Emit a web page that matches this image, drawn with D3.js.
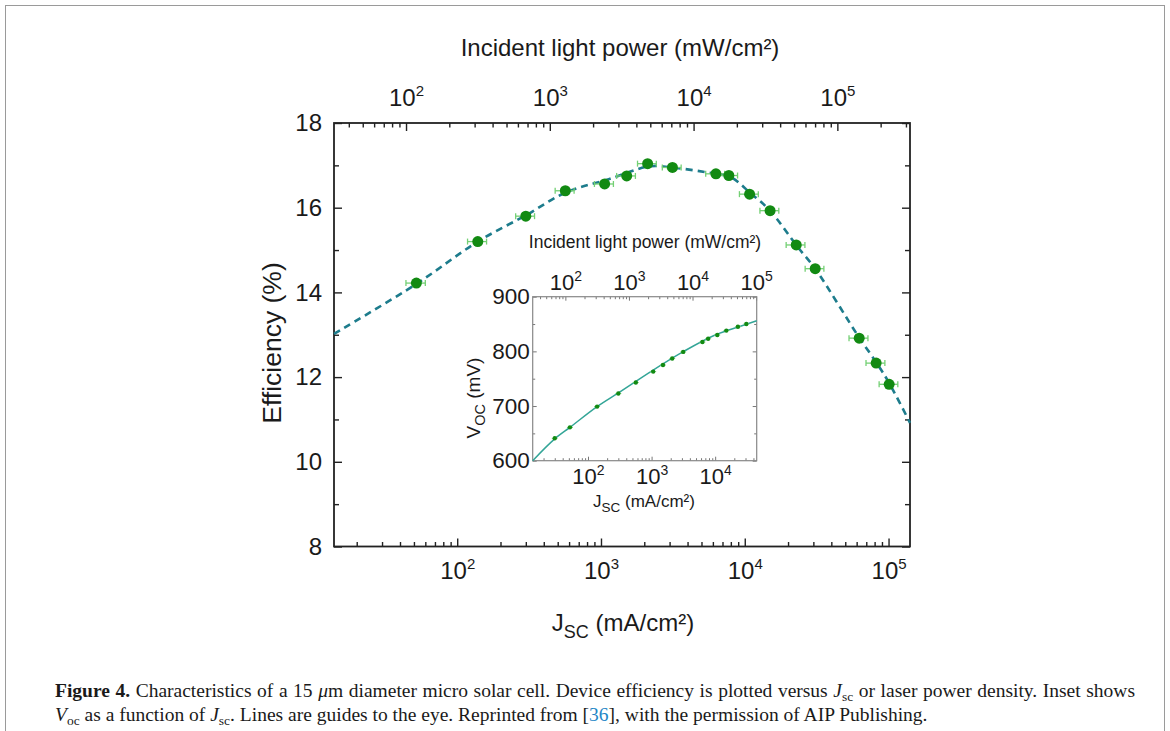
<!DOCTYPE html>
<html>
<head>
<meta charset="utf-8">
<script src="https://cdn.jsdelivr.net/npm/d3@7"></script>
<style>
  body { margin: 0; background: #fff; }
  svg { display: block; }
  text { font-family: "Liberation Sans", Arial, sans-serif; fill: #1a1a1a; }
</style>
</head>
<body>
<svg id="chart" width="1170" height="731"></svg>
<script>
// main plot: efficiency vs Jsc (mA/cm2)
const jsc = [52, 139, 300, 565, 1060, 1510, 2110, 3140, 6300, 7750, 10800, 15000, 22800, 30900, 62500, 82000, 101000];
const efficiency = [14.22, 15.2, 15.8, 16.4, 16.56, 16.75, 17.04, 16.95, 16.8, 16.76, 16.32, 15.93, 15.12, 14.56, 12.92, 12.33, 11.83];
const jscErr = [8, 21, 45, 85, 160, 225, 315, 470, 950, 1160, 1620, 2250, 3400, 4600, 9400, 12300, 15000];

// dashed guide to the eye
const guideJsc = [13.9, 52, 139, 300, 570, 1100, 2200, 3100, 6300, 8000, 11000, 15000, 23000, 31000, 62000, 82000, 101000, 141000];
const guideEff = [13.02, 14.2, 15.2, 15.82, 16.36, 16.66, 16.98, 16.95, 16.8, 16.72, 16.34, 15.93, 15.1, 14.55, 12.95, 12.35, 11.86, 10.92];

// inset: Voc (mV) vs Jsc
const insetJsc = [30, 52, 139, 300, 565, 1060, 1510, 2110, 3140, 6300, 7750, 10800, 15000, 22800, 30900];
const insetVoc = [641, 661, 699, 723, 743, 763, 775, 787, 799, 817, 823, 830, 838, 845, 850];
const insetFitJsc = [13.5, 30, 52, 139, 300, 1000, 3100, 10000, 25000, 45000];
const insetFitVoc = [600, 640, 661, 699, 724, 764, 799, 830, 846, 856];

const effTicks = [8, 10, 12, 14, 16, 18];
const effMinor = [9, 11, 13, 15, 17];
const vocTicks = [600, 700, 800, 900];
const vocMinor = [650, 750, 850];
const powerPerJsc = 2.27; // incident power density per unit of Jsc

const svg = d3.select("#chart");
svg.append("rect").attr("width", 1170).attr("height", 731).attr("fill", "#fff");
svg.append("rect").attr("x", 5.5).attr("y", 5.5).attr("width", 1159).attr("height", 760)
  .attr("fill", "none").attr("stroke", "#9a9a9a").attr("stroke-width", 1);

function isPow10(d) {
  const l = Math.log10(d);
  return Math.abs(l - Math.round(l)) < 1e-6;
}
function supLabels(g, supSize, rise) {
  g.selectAll(".tick text").each(function (d) {
    const t = d3.select(this).text(null);
    t.append("tspan").text("10");
    t.append("tspan").attr("dy", -rise).attr("font-size", supSize).text(Math.round(Math.log10(d)));
  });
}
function clean(g, color, width) {
  g.select(".domain").remove();
  g.selectAll(".tick line").attr("stroke", color).attr("stroke-width", width);
}

// ---------- main plot ----------
const x = d3.scaleLog().domain([13.9, 141000]).range([334, 910]);
const xTop = d3.scaleLog().domain(x.domain().map(d => d * powerPerJsc)).range(x.range());
const y = d3.scaleLinear().domain([8, 18]).range([546.5, 123]);

function logAxes(scale, axisFn, ty, major, minor, pad, fs, sup, rise, color, lw) {
  const minorVals = scale.ticks().filter(d => !isPow10(d));
  const majorVals = scale.ticks().filter(isPow10);
  const g1 = svg.append("g").attr("transform", `translate(0,${ty})`)
    .call(axisFn(scale).tickValues(minorVals).tickSize(-minor).tickSizeOuter(0).tickFormat(""));
  clean(g1, color, lw);
  const g2 = svg.append("g").attr("transform", `translate(0,${ty})`)
    .call(axisFn(scale).tickValues(majorVals).tickSize(-major).tickSizeOuter(0).tickPadding(pad).tickFormat(d => d));
  clean(g2, color, lw);
  g2.selectAll(".tick text").attr("font-size", fs).attr("font-family", "Liberation Sans, Arial, sans-serif").attr("fill", "#1a1a1a");
  supLabels(g2, sup, rise);
  return g2;
}

logAxes(x, d3.axisBottom, y(8), 8, 4.5, 15, 24, 15, 10, "#222", 1.4);
logAxes(xTop, d3.axisTop, y(18), 8, 4.5, 17, 24, 15, 10, "#222", 1.4);

const gl = svg.append("g").attr("transform", `translate(${x.range()[0]},0)`)
  .call(d3.axisLeft(y).tickValues(effTicks).tickSize(-8).tickSizeOuter(0).tickPadding(12));
clean(gl, "#222", 1.4);
gl.selectAll(".tick text").attr("font-size", 24).attr("fill", "#1a1a1a").attr("font-family", "Liberation Sans, Arial, sans-serif");
const glm = svg.append("g").attr("transform", `translate(${x.range()[0]},0)`)
  .call(d3.axisLeft(y).tickValues(effMinor).tickSize(-5).tickFormat(""));
clean(glm, "#222", 1.4);
const gr = svg.append("g").attr("transform", `translate(${x.range()[1]},0)`)
  .call(d3.axisRight(y).tickValues(effTicks).tickSize(-8).tickFormat(""));
clean(gr, "#222", 1.4);
const grm = svg.append("g").attr("transform", `translate(${x.range()[1]},0)`)
  .call(d3.axisRight(y).tickValues(effMinor).tickSize(-5).tickFormat(""));
clean(grm, "#222", 1.4);

svg.append("rect")
  .attr("x", x.range()[0]).attr("y", y(18))
  .attr("width", x.range()[1] - x.range()[0]).attr("height", y(8) - y(18))
  .attr("fill", "none").attr("stroke", "#222").attr("stroke-width", 1.8);

// titles
svg.append("text").attr("x", 620).attr("y", 56).attr("text-anchor", "middle")
  .attr("font-size", 24).text("Incident light power (mW/cm²)");
const bt = svg.append("text").attr("x", 623).attr("y", 631).attr("text-anchor", "middle").attr("font-size", 24);
bt.append("tspan").text("J");
bt.append("tspan").attr("font-size", 18).attr("dy", 7).text("SC");
bt.append("tspan").attr("dy", -7).text(" (mA/cm²)");
svg.append("text").attr("transform", "translate(281,343) rotate(-90)").attr("text-anchor", "middle")
  .attr("font-size", 26.5).text("Efficiency (%)");

// guide line
const guide = guideJsc.map((d, i) => [d, guideEff[i]]);
svg.append("path").datum(guide)
  .attr("d", d3.line().x(d => x(d[0])).y(d => y(d[1])).curve(d3.curveCatmullRom.alpha(0.5)))
  .attr("fill", "none").attr("stroke", "#1d7c8c").attr("stroke-width", 2.6)
  .attr("stroke-dasharray", "7,5");

// error bars + points
const pts = jsc.map((d, i) => ({ j: d, e: efficiency[i], err: jscErr[i] }));
const eb = svg.append("g").attr("stroke", "#74d074").attr("stroke-width", 1.3).attr("fill", "none");
pts.forEach(p => {
  const x0 = x(p.j - p.err), x1 = x(p.j + p.err), yy = y(p.e);
  eb.append("line").attr("x1", x0).attr("x2", x1).attr("y1", yy).attr("y2", yy);
  eb.append("line").attr("x1", x0).attr("x2", x0).attr("y1", yy - 3).attr("y2", yy + 3);
  eb.append("line").attr("x1", x1).attr("x2", x1).attr("y1", yy - 3).attr("y2", yy + 3);
});
svg.append("g").selectAll("circle").data(pts).join("circle")
  .attr("cx", d => x(d.j)).attr("cy", d => y(d.e)).attr("r", 5.5)
  .attr("fill", "#128a12");

// ---------- inset ----------
const xi = d3.scaleLog().domain([13.5, 45000]).range([532.7, 756.7]);
const xiTop = d3.scaleLog().domain(xi.domain().map(d => d * powerPerJsc)).range(xi.range());
const yi = d3.scaleLinear().domain([600, 900]).range([460.7, 296.7]);

logAxes(xi, d3.axisBottom, yi(600), 4, 2.5, 8, 22, 14, 9, "#777", 1);
logAxes(xiTop, d3.axisTop, yi(900), 4, 2.5, 7, 22, 14, 9, "#777", 1);

const gil = svg.append("g").attr("transform", `translate(${xi.range()[0]},0)`)
  .call(d3.axisLeft(yi).tickValues(vocTicks).tickSize(-4).tickSizeOuter(0).tickPadding(3));
clean(gil, "#777", 1);
gil.selectAll(".tick text").attr("font-size", 22.5).attr("fill", "#1a1a1a").attr("font-family", "Liberation Sans, Arial, sans-serif");
[[d3.axisLeft, xi.range()[0], vocMinor, 2.5], [d3.axisRight, xi.range()[1], vocTicks, 4], [d3.axisRight, xi.range()[1], vocMinor, 2.5]]
  .forEach(([fn, tx, vals, len]) => {
    const g = svg.append("g").attr("transform", `translate(${tx},0)`)
      .call(fn(yi).tickValues(vals).tickSize(-len).tickFormat(""));
    clean(g, "#777", 1);
  });
svg.append("rect")
  .attr("x", xi.range()[0]).attr("y", yi(900))
  .attr("width", xi.range()[1] - xi.range()[0]).attr("height", yi(600) - yi(900))
  .attr("fill", "none").attr("stroke", "#888").attr("stroke-width", 1.2);

svg.append("text").attr("x", 645).attr("y", 248).attr("text-anchor", "middle")
  .attr("font-size", 17.5).attr("fill", "#333").text("Incident light power (mW/cm²)");
const ibt = svg.append("text").attr("x", 644).attr("y", 507).attr("text-anchor", "middle").attr("font-size", 17);
ibt.append("tspan").text("J");
ibt.append("tspan").attr("font-size", 13.5).attr("dy", 5).text("SC");
ibt.append("tspan").attr("dy", -5).text(" (mA/cm²)");
const ilt = svg.append("text").attr("transform", "translate(480,398) rotate(-90)").attr("text-anchor", "middle").attr("font-size", 19);
ilt.append("tspan").text("V");
ilt.append("tspan").attr("font-size", 14.5).attr("dy", 5).text("OC");
ilt.append("tspan").attr("dy", -5).text(" (mV)");

const fit = insetFitJsc.map((d, i) => [d, insetFitVoc[i]]);
svg.append("path").datum(fit)
  .attr("d", d3.line().x(d => xi(d[0])).y(d => yi(d[1])).curve(d3.curveMonotoneX))
  .attr("fill", "none").attr("stroke", "#33a597").attr("stroke-width", 1.5);

const ipts = insetJsc.map((d, i) => ({ j: d, v: insetVoc[i] }));
svg.append("g").selectAll("line").data(ipts).join("line")
  .attr("x1", d => xi(d.j) - 3).attr("x2", d => xi(d.j) + 3)
  .attr("y1", d => yi(d.v)).attr("y2", d => yi(d.v))
  .attr("stroke", "#8fdc8f").attr("stroke-width", 1);
svg.append("g").selectAll("circle").data(ipts).join("circle")
  .attr("cx", d => xi(d.j)).attr("cy", d => yi(d.v)).attr("r", 2.2)
  .attr("fill", "#128a12");

// ---------- caption ----------
const capLines = [
  [["Figure 4.", "b"], [" Characteristics of a 15 ", ""], ["μ", "i"], ["m diameter micro solar cell. Device efficiency is plotted versus ", ""],
   ["J", "i"], ["sc", "sub"], [" or laser power density. Inset shows", ""]],
  [["V", "i"], ["oc", "sub"], [" as a function of ", ""], ["J", "i"], ["sc", "sub"], [". Lines are guides to the eye. Reprinted from [", ""],
   ["36", "link"], ["], with the permission of AIP Publishing.", ""]]
];
const capY = [697, 721];
const capWidth = 1080; // justified first line
const cap = svg.append("g").attr("transform", "translate(55,0)");
capLines.forEach((runs, li) => {
  const t = cap.append("text").attr("x", 0).attr("y", capY[li])
    .attr("font-family", "Liberation Serif, Times New Roman, serif").attr("font-size", 19.5).attr("fill", "#111");
  let down = false;
  runs.forEach(([s, k]) => {
    const ts = t.append("tspan").text(s).style("font-family", "Liberation Serif, Times New Roman, serif");
    if (k === "b") ts.attr("font-weight", "bold");
    if (k === "i") ts.attr("font-style", "italic");
    if (k === "link") ts.attr("fill", "#1f86c6");
    if (k === "sub") { ts.attr("font-size", 13.5).attr("dy", 3.5); down = true; }
    else if (down) { ts.attr("dy", -3.5); down = false; }
  });
  if (li === 0) {
    const natural = t.node().getComputedTextLength();
    const spaces = runs.map(r => r[0]).join("").split(" ").length - 1;
    t.attr("word-spacing", (capWidth - natural) / spaces);
  }
});
</script>
</body>
</html>
